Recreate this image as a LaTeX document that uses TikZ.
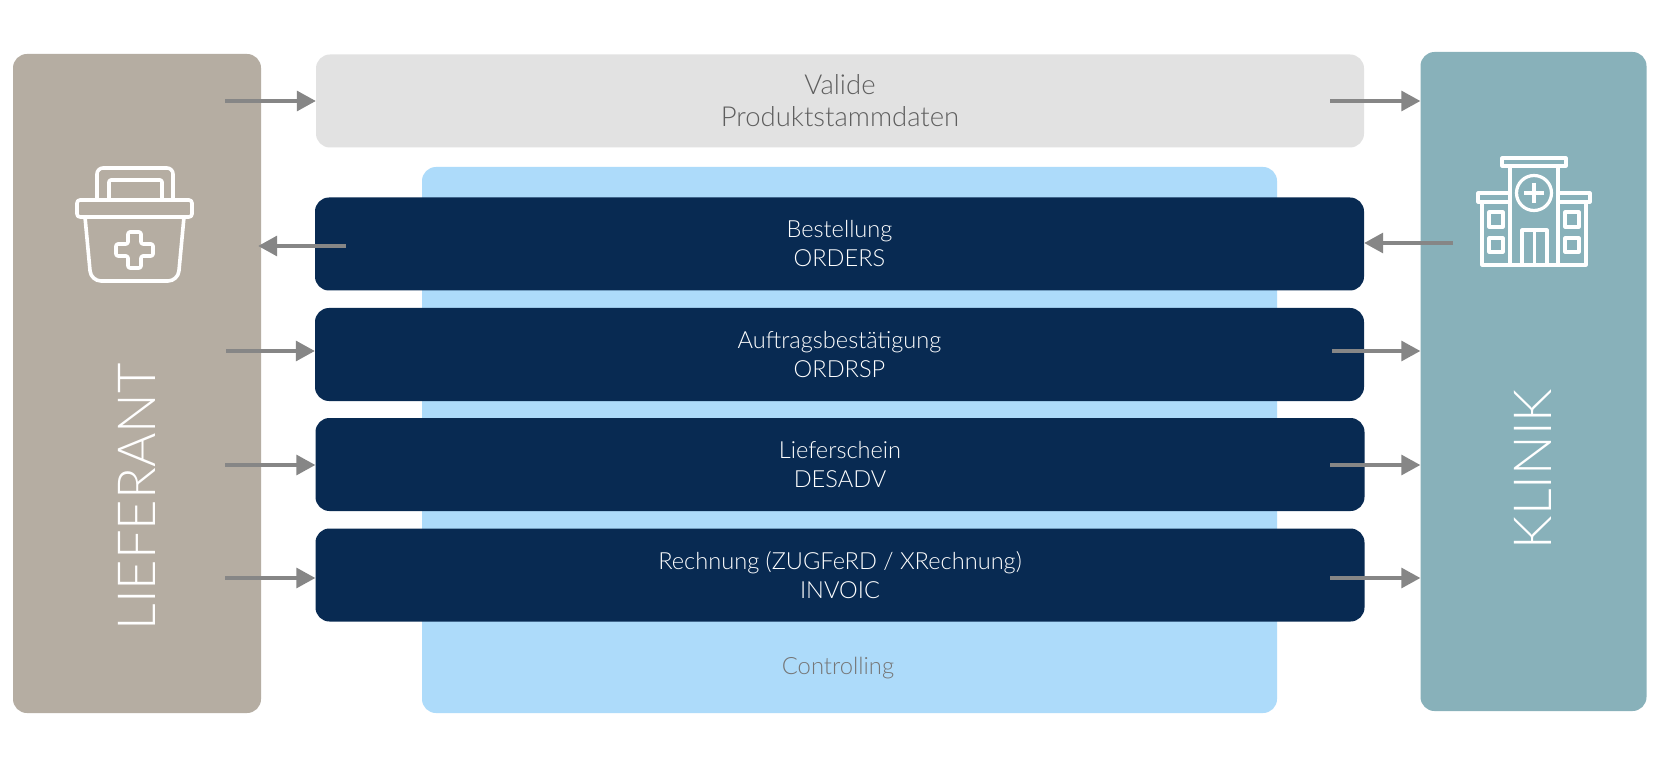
\documentclass[tikz,border=0pt]{standalone}
\usepackage{fontspec}
\setmainfont{Lato}[UprightFont=* Light,BoldFont=* Light]
\usetikzlibrary{arrows.meta}
\definecolor{taupe}{HTML}{B5ADA2}
\definecolor{teal}{HTML}{88B1BA}
\definecolor{lgrey}{HTML}{E2E2E2}
\definecolor{lblue}{HTML}{ADDBFA}
\definecolor{navy}{HTML}{082A52}
\definecolor{arrowgrey}{HTML}{868686}
\definecolor{txtgrey}{HTML}{5E5E5E}
\tikzset{x=1pt,y=-1pt,
 panel/.style={draw=none,rounded corners=14pt,inner sep=0pt,minimum width=#1},
 rowbox/.style={fill=navy,draw=none,rounded corners=14pt,inner sep=0pt,minimum width=1049pt,minimum height=93pt,text=white,align=center,font=\fontsize{23.6}{29}\selectfont},
 flow/.style={draw=arrowgrey,line width=3.2pt,-{Triangle[length=19pt,width=20pt,fill=arrowgrey]}},
 side/.style={text=white,font=\fontsize{52.5}{52}\selectfont,rotate=90,inner sep=0pt},
 icon/.style={draw=white,line width=3.6pt,line join=round,fill=none}
}
\begin{document}
\begin{tikzpicture}
\useasboundingbox (0,0) rectangle (1663,767);
\fill[white] (0,0) rectangle (1663,767);
\node[panel=248pt,minimum height=659pt,fill=taupe] (lief) at (137,383.5) {};
\node[panel=226pt,minimum height=659pt,fill=teal] (klin) at (1533.5,381.5) {};
\node[panel=1048pt,minimum height=93pt,fill=lgrey,text=txtgrey,align=center,font=\fontsize{27.5}{32}\selectfont] (stamm) at (840,101) {Valide\\Produktstammdaten};
\node[panel=855pt,minimum height=546pt,fill=lblue] (ctrl) at (849.5,440) {};
\node[rowbox] (order) at (839.5,244) {Bestellung\\ORDERS};
\node[rowbox] (ordrsp) at (839.5,354.5) {Auftragsbestätigung\\ORDRSP};
\node[rowbox] (desadv) at (840,464.5) {Lieferschein\\DESADV};
\node[rowbox] (invoic) at (840,575) {Rechnung (ZUGFeRD / XRechnung)\\INVOIC};
\node[text=txtgrey!85,font=\fontsize{23.8}{26}\selectfont] (ctrllabel) at (838,668) {Controlling};
\node[side] (lieflabel) at (137,497) {LIEFERANT};
\node[side] (klinlabel) at (1533,469) {KLINIK};
% free arrow ends
\coordinate (a1) at (225,101);
\coordinate (a2) at (1330,101);
\coordinate (b1) at (346,246);
\coordinate (b2) at (1453,243);
\coordinate (c1) at (226,351);
\coordinate (c2) at (1332,351);
\coordinate (d1) at (225,465);
\coordinate (d2) at (1330,465);
\coordinate (e1) at (225,578);
\coordinate (e2) at (1330,578);
\draw[flow] (a1) -- (a1 -| stamm.west);
\draw[flow] (a2) -- (a2 -| klin.west);
\draw[flow,shorten >=-3pt] (b1) -- (b1 -| lief.east);
\draw[flow] (b2) -- (b2 -| order.east);
\draw[flow] (c1) -- (c1 -| ordrsp.west);
\draw[flow] (c2) -- (c2 -| klin.west);
\draw[flow] (d1) -- (d1 -| desadv.west);
\draw[flow] (d2) -- (d2 -| klin.west);
\draw[flow] (e1) -- (e1 -| invoic.west);
\draw[flow] (e2) -- (e2 -| klin.west);
% medical case icon
\draw[icon,rounded corners=3pt] (77,200) rectangle (192,217);
\draw[icon,rounded corners=6pt] (97,199) -- (97,168) -- (173,168) -- (173,199);
\draw[icon,rounded corners=2pt] (109,199) -- (109,180) -- (162,180) -- (162,199);
\draw[icon,rounded corners=10pt] (85,217) -- (91,281) -- (178,281) -- (184,217);
\draw[icon,rounded corners=2pt] (128,232) -- (141,232) -- (141,244) -- (153,244) -- (153,256) -- (141,256) -- (141,268) -- (128,268) -- (128,256) -- (116,256) -- (116,244) -- (128,244) -- cycle;
% hospital icon
\begin{scope}[icon/.append style={line width=3.2pt}]
\draw[icon] (1502,158) rectangle (1566,166);
\draw[icon] (1510,166) -- (1510,264);
\draw[icon] (1558,166) -- (1558,264);
\draw[icon] (1534,193) circle (17.5pt);
\draw[icon] (1524,193) -- (1544,193) (1534,183) -- (1534,203);
\draw[icon] (1510,193) -- (1478,193) -- (1478,202) -- (1510,202);
\draw[icon] (1558,193) -- (1590,193) -- (1590,202) -- (1558,202);
\draw[icon] (1482,202) -- (1482,265) -- (1586,265) -- (1586,202);
\draw[icon] (1489,212) rectangle (1503,227);
\draw[icon] (1489,238) rectangle (1503,252);
\draw[icon] (1565,212) rectangle (1579,227);
\draw[icon] (1565,238) rectangle (1579,252);
\draw[icon] (1522,265) -- (1522,230) -- (1547,230) -- (1547,265) (1534.5,230) -- (1534.5,265);
\end{scope}
\end{tikzpicture}
\end{document}
